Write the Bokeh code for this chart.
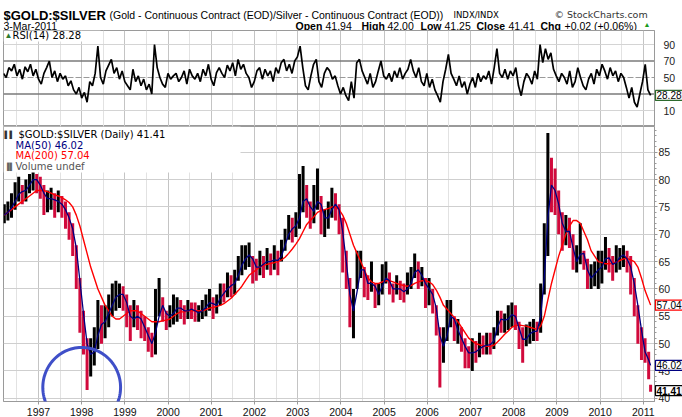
import numpy as np
import pandas as pd
from bokeh.plotting import figure
from bokeh.layouts import column
from bokeh.models import Range1d, FixedTicker, Span, Label, BoxAnnotation, PolyAnnotation
from bokeh.core.properties import value
from bokeh.embed import file_html
from bokeh.resources import INLINE

# ---------------- data ----------------
months = pd.period_range("1996-03", "2011-03", freq="M")

low = [72, 72.5, 73, 74.5, 76, 75.5, 76, 77.5, 78, 77.5,
       76.5, 73.5, 74, 74.5, 73, 74, 73, 71, 69, 66, 60, 52,
       48, 41.5, 44, 46, 49, 50, 51, 53, 55, 56, 56.5, 56,
       53, 50.5, 53, 52.5, 51, 50.5, 48.5, 47.5, 48, 55, 54, 52.5,
       53, 53.5, 54, 54.5, 53.5, 54.5, 54.5, 54, 54, 54.5, 55, 56,
       54.5, 55.5, 57, 57.5, 58.5, 58.5, 59, 61.5, 62.5, 63.5, 64, 61,
       61.5, 62.5, 62, 63.5, 62.5, 63.5, 62.5, 65, 67, 69, 68.5, 69.5,
       71, 74, 73, 71, 72, 74.5, 70, 69.5, 71, 73, 72.5, 70,
       63, 60, 53, 51, 60, 62, 58.5, 58, 59.5, 56.5, 57, 59,
       61, 59, 57.5, 59, 58, 57.5, 59, 60, 62, 60, 60.5, 56.5,
       57, 55.5, 51.5, 42, 46.5, 50.5, 53, 50.5, 50, 48.5, 45.5, 45.5,
       45, 46.5, 47.5, 48, 48, 48, 49, 51.5, 52, 52, 52.5, 53,
       52.5, 49, 46.5, 49.5, 50, 50.5, 50.5, 52, 59, 66, 74, 73.5,
       70, 67, 68, 67.5, 63.5, 63, 64.5, 63.5, 60, 60, 60.5, 60,
       61, 63.5, 63, 61.5, 63, 63.5, 64, 63, 59, 55, 50, 47,
       46.5, 43.5, 41.2]

high = [75.5, 76, 77.5, 79.5, 80.5, 79, 80, 81, 81.5, 81,
        80.5, 79, 78, 78.5, 77.5, 78, 77, 76, 74, 72, 68, 62,
        56, 51, 51, 53, 58, 57, 57, 59, 61, 61.5, 61, 60.5,
        59, 57, 58, 57, 56, 55, 53, 52, 60, 62, 58.5, 56,
        57, 59, 58.5, 58, 57, 58, 57.5, 57.5, 57, 58, 59, 60,
        58.5, 59, 61, 61, 63, 62.5, 63.5, 66, 68, 68, 68.5, 66,
        65.5, 67, 66, 67.5, 66.5, 68, 67, 69, 71, 73.5, 73, 74,
        81, 82.5, 79, 76, 79, 82, 77, 74.5, 76, 78.5, 77.5, 75.5,
        73, 67, 62, 60, 67, 67, 64, 62.5, 65, 61, 61, 64.5,
        65, 63, 61, 62.5, 61.5, 61, 63, 64, 66.5, 65, 64, 62,
        62, 60, 57, 53, 53, 58, 58, 55, 54.5, 53, 51, 49.5,
        51, 50.5, 52, 51.5, 52, 52, 53, 56, 56, 55.5, 57, 57.5,
        57, 54, 53, 53.5, 54, 54.5, 54, 61, 72, 88.5, 84, 82,
        78, 74, 73.5, 73, 70, 68, 72, 67, 65.5, 64.5, 65, 67,
        67, 69.5, 67.5, 66, 68, 67.5, 68, 67, 66, 62, 57, 53,
        51, 48.5, 42.5]

close = [73.5, 74.5, 75.5, 78, 78.5, 77, 79, 80, 80.5, 79,
         78, 75, 76.5, 77, 75, 76.5, 74.5, 73, 71, 68, 62, 55,
         50, 45, 48.5, 49.5, 56, 53, 54.5, 57, 58.5, 59, 59.5, 58.5,
         55, 52.5, 56, 55, 53, 52, 50, 49, 57, 58, 56, 54,
         55, 56.5, 57, 56, 55, 57, 56, 55.5, 55.5, 56.5, 57, 58.5,
         56, 57.5, 59.5, 59, 61, 60.5, 62, 64, 65.5, 66, 66.5, 63.5,
         63, 65.5, 64, 65.5, 64.5, 66, 64.5, 67, 69, 72, 70.5, 72.5,
         75, 78, 75.5, 73, 75, 78, 72, 72, 74, 76, 75, 72.5,
         66, 62, 55, 57, 65, 65.5, 61, 60, 63, 58, 59, 63,
         63, 60, 59, 61, 59.5, 59, 61, 62, 65, 62, 62, 59,
         60.5, 58, 53.5, 48, 50, 55, 56, 52, 52, 50, 49, 47.5,
         49, 48, 50, 49.5, 50, 49.5, 51.5, 55, 54, 54, 55, 56,
         54, 51, 50, 52, 52, 52.5, 52, 59, 68, 80, 78, 77,
         74, 70, 71, 70, 65, 65, 68, 65, 61.5, 62.5, 63, 64,
         64, 67, 65, 63.5, 66, 66, 66.5, 64.5, 62, 57.5, 53, 49.5,
         48.5, 45, 41.41]

ma50 = [73.5, 74, 74.8, 76, 77.3, 77.8, 78, 79, 80, 80,
        79, 77.5, 76.5, 76.5, 76.3, 76, 75.5, 74.5, 73, 71, 67.5, 61.5,
        55.5, 50, 48, 48.5, 51.5, 53.5, 54, 55.5, 57, 58.5, 59, 59,
        57.5, 55, 54.5, 55, 54.5, 53, 51.5, 50, 52, 55, 57, 55.5,
        55, 55.5, 56.5, 56.5, 56, 56, 56.3, 56, 55.6, 56, 56.6, 57.5,
        57.3, 57, 58.3, 59.2, 60, 60.6, 61, 62.5, 64.3, 65.5, 66.2, 65.5,
        64, 64, 64.5, 65, 65, 65.3, 65.2, 66, 68, 70, 71, 71.5,
        73, 76, 76.5, 75, 74.2, 76, 75.5, 73, 73, 74.5, 75.5, 74.5,
        70.5, 65, 59, 56, 59.5, 63.5, 63.5, 61, 61, 60.5, 59, 60.5,
        62, 61.5, 60, 60, 60, 59.5, 60, 61, 63, 63.5, 62.5, 61,
        60, 59, 56.5, 51.5, 49.5, 51.5, 55, 54.5, 52.5, 51, 49.5, 48.3,
        48.3, 48.5, 49, 49.5, 49.7, 49.8, 50.5, 53, 54.5, 54.3, 54.5, 55.3,
        55, 52.8, 50.8, 50.8, 51.8, 52.2, 52.3, 55, 62, 73, 79, 78,
        75.5, 72, 70.5, 70.5, 67.5, 65, 66.3, 66.5, 63.5, 62, 62.7, 63.5,
        64, 65.5, 65.7, 64.5, 64.8, 65.8, 66.2, 65.5, 64, 61, 57, 52.5,
        48.5, 47, 46.02]

ma200 = [73.5, 74, 74.5, 75, 75.5, 76, 76.5, 77, 77.5, 78,
         78, 78, 77.8, 77.5, 77.2, 77, 76.7, 76.3, 75.8, 75, 73.5, 71.5,
         69, 66.5, 64, 62, 60, 58.5, 57, 56, 55, 54.5, 54.5, 55,
         55.5, 56, 56, 56, 55.5, 55, 54.5, 54, 54, 54, 54.2, 54.3,
         54.5, 55, 55.5, 55.8, 55.8, 56, 56, 56, 56, 56, 56.2, 56.5,
         56.6, 56.8, 57, 57.3, 57.8, 58.3, 59, 59.7, 60.5, 61.5, 62.5, 63,
         63.5, 64, 64.3, 64.5, 64.7, 64.8, 65, 65.3, 65.8, 66.5, 67.3, 68.2,
         69.2, 70.5, 71.8, 72.5, 73.2, 74, 74.3, 74.5, 74.7, 75, 75, 74.5,
         73.5, 72, 70, 68, 66.5, 65, 63.5, 62, 61.3, 61, 61, 61.3,
         61.5, 61.5, 61.3, 61, 60.8, 60.6, 60.5, 60.6, 61, 61.3, 61.5, 61.5,
         61.3, 60.8, 59.8, 58.5, 57, 56.3, 55.5, 54.8, 54, 53, 52, 51,
         50.5, 50, 49.8, 49.6, 49.5, 49.5, 49.7, 50.3, 51, 51.7, 52.3, 53,
         53.3, 53.4, 53.3, 53.2, 53, 52.8, 52.6, 53.2, 55, 58, 61, 63.5,
         66, 68, 70, 71.5, 72.5, 72.5, 72, 70.5, 69, 67, 66, 65,
         64.8, 64.6, 64.6, 64.7, 64.9, 65.2, 65.5, 65.6, 65.3, 65, 64, 62,
         59.7, 58, 57.04]

rsi = [55, 50, 62, 58, 66, 52, 60, 48, 63, 57, 66, 52, 60, 48, 42, 55,
       62, 70, 50, 58, 45, 55, 48, 52, 40, 46, 35, 30, 38, 25, 32, 20,
       45, 40, 55, 88, 50, 42, 58, 65, 72, 55, 62, 48, 58, 45, 40, 35,
       60, 45, 52, 40, 48, 35, 42, 30, 90, 62, 50, 42, 38, 55, 48, 52,
       55, 45, 50, 58, 42, 60, 52, 48, 55, 45, 60, 52, 66, 48, 40, 56,
       62, 55, 50, 65, 58, 68, 52, 72, 60, 66, 55, 50, 38, 45, 58, 62,
       48, 60, 52, 58, 45, 62, 55, 68, 72, 58, 66, 55, 70, 75, 88, 62,
       40, 35, 52, 66, 72, 45, 38, 55, 62, 58, 48, 52, 40, 30, 38, 28,
       22, 45, 25, 68, 72, 58, 50, 42, 55, 38, 45, 58, 70, 52, 48, 55,
       45, 58, 50, 62, 48, 55, 60, 72, 58, 50, 62, 45, 40, 55, 38, 48,
       35, 28, 20, 45, 60, 78, 55, 48, 40, 52, 38, 45, 30, 42, 50, 38,
       55, 45, 52, 48, 58, 42, 62, 85, 55, 50, 60, 48, 58, 52, 62, 40,
       28, 45, 55, 50, 42, 58, 48, 90, 68, 85, 72, 80, 60, 52, 45, 55,
       50, 42, 58, 38, 45, 62, 50, 40, 35, 48, 55, 42, 60, 52, 66, 58,
       48, 62, 52, 58, 45, 55, 50, 38, 25, 38, 20, 14, 30, 45, 66, 35,
       28.28]

years = list(range(1997, 2012))
main_ticks = [40, 45, 50, 55, 60, 65, 70, 75, 80, 85]
rsi_ticks = [10, 30, 50, 70, 90]

# ---------------- positions ----------------
t = np.array([p.year + (p.month - 0.5) / 12.0 for p in months])
t[-1] = 2011.17
t_rsi = np.linspace(1996.19, 2011.17, len(rsi))

X0, X1 = 1996.19, 2011.26
Y0, Y1 = 39.42, 89.7
R0, R1 = -9.4, 107.0
FW = 651


def xd(px):
    return X0 + (px - 3) * (X1 - X0) / FW


def yd(py):
    return Y0 + (401 - py) * (Y1 - Y0) / 275.0


def yr(py):
    return R0 + (126 - py) * (R1 - R0) / 96.0


UP = "#000000"
DOWN = "#d10a3c"
GRID_MAJ = "#c4c4c4"
GRID_MIN = "#e2e2e2"
FRAME = "#9a9a9a"

# ---------------- header (frame spans page pixels 3..654, so x == page pixel) ----------------
hdr = figure(frame_width=FW, frame_height=30, x_range=Range1d(3, 654), y_range=Range1d(30, 0),
             toolbar_location=None, output_backend="svg", title=None,
             x_axis_location=None, y_axis_location=None,
             min_border_left=3, min_border_right=28, min_border_top=0, min_border_bottom=0)
hdr.grid.visible = False
hdr.outline_line_color = None


def htext(x, y, s, size, bold=False, color="#000000", font="Liberation Sans"):
    hdr.text(x=[x], y=[y], text=[s], text_font=value(font), text_font_size=value(size),
             text_font_style="bold" if bold else "normal", text_color=color,
             text_baseline="alphabetic", text_align="left")


htext(3, 15, "$GOLD:$SILVER", "13px", bold=True)
htext(109, 14, "(Gold - Continuous Contract (EOD)/Silver - Continuous Contract (EOD))", "10.5px")
htext(453, 14, "INDX/INDX", "8.5px", font="DejaVu Sans")
htext(554, 14, "\u00a9 StockCharts.com", "9.5px", color="#333333", font="DejaVu Sans")
htext(3, 25, "3-Mar-2011", "10.5px")
htext(295, 25, "Open", "10.5px", bold=True)
htext(325, 25, "41.94", "10.5px")
htext(361, 25, "High", "10.5px", bold=True)
htext(387, 25, "42.00", "10.5px")
htext(420, 25, "Low", "10.5px", bold=True)
htext(444, 25, "41.25", "10.5px")
htext(476, 25, "Close", "10.5px", bold=True)
htext(508, 25, "41.41", "10.5px")
htext(540, 25, "Chg", "10.5px", bold=True)
htext(564, 25, "+0.02 (+0.06%)", "10.5px")
htext(643, 24, "\u25b2", "7px", color="#1a9a1a")

# ---------------- RSI panel ----------------
rp = figure(frame_width=FW, frame_height=96, x_range=Range1d(X0, X1), y_range=Range1d(R0, R1),
            toolbar_location=None, output_backend="svg", y_axis_location="right",
            min_border_left=3, min_border_right=28, min_border_top=0, min_border_bottom=0)
rp.xaxis.visible = False
rp.yaxis.ticker = FixedTicker(ticks=rsi_ticks)
rp.yaxis.major_label_overrides = {30: ""}
rp.yaxis.major_label_text_font = "Liberation Sans"
rp.yaxis.major_label_text_font_size = "10.5px"
rp.yaxis.major_label_text_color = "#222222"
rp.yaxis.axis_line_color = FRAME
rp.yaxis.major_tick_line_color = None
rp.yaxis.minor_tick_line_color = None
rp.yaxis.major_label_standoff = 3
rp.ygrid.visible = False
rp.xgrid.ticker = FixedTicker(ticks=years, minor_ticks=[y + 0.5 for y in range(1996, 2011)])
rp.xgrid.grid_line_color = GRID_MAJ
rp.xgrid.minor_grid_line_color = GRID_MIN
rp.outline_line_color = FRAME

for lv, col, w, dash in [(90, "#d4d4d4", 1, "solid"), (10, "#d4d4d4", 1, "solid"),
                         (70, "#7a7a7a", 1.5, "solid"), (30, "#7a7a7a", 1.5, "solid"),
                         (50, "#9a9a9a", 1.2, "6 2")]:
    rp.add_layout(Span(location=lv, dimension="width", line_color=col, line_width=w,
                       line_dash=dash, level="underlay"))

rp.line(t_rsi, rsi, line_color="#000000", line_width=1.7)

rp.add_layout(BoxAnnotation(left=X0, right=xd(100), bottom=yr(41), top=R1,
                            fill_color="white", fill_alpha=1, line_color=None))
rp.add_layout(Label(x=xd(4), y=yr(35), text="\u25b2", text_color="#2d7a2d",
                    text_font_size="8px", text_baseline="middle"))
rp.add_layout(Label(x=xd(12), y=yr(35), text="RSI(14) 28.28", text_color="#000000",
                    text_font="DejaVu Sans", text_font_size="10px", text_baseline="middle"))
rp.add_layout(Label(x=xd(655), y=28.28, text="28.28", text_color="#000000",
                    text_font="Liberation Sans", text_font_size="10px", text_baseline="middle",
                    border_line_color="#2d6a2d", border_line_width=1.2,
                    background_fill_color="white", padding=1), "right")

# ---------------- main panel ----------------
mp = figure(frame_width=FW, frame_height=275, x_range=Range1d(X0, X1), y_range=Range1d(Y0, Y1),
            toolbar_location=None, output_backend="svg", y_axis_location="right",
            min_border_left=3, min_border_right=28, min_border_top=0, min_border_bottom=16)
mp.xaxis.ticker = FixedTicker(ticks=years, minor_ticks=[y + 0.5 for y in range(1996, 2011)])
mp.xaxis.major_label_overrides = {y: str(y) for y in years}
mp.xaxis.major_label_text_font = "Liberation Sans"
mp.xaxis.major_label_text_font_size = "10.5px"
mp.xaxis.major_label_text_color = "#111111"
mp.xaxis.axis_line_color = FRAME
mp.xaxis.major_tick_line_color = FRAME
mp.xaxis.major_tick_out = 3
mp.xaxis.major_tick_in = 0
mp.xaxis.minor_tick_line_color = None
mp.xaxis.major_label_standoff = 2

mp.yaxis.ticker = FixedTicker(ticks=main_ticks, minor_ticks=list(range(40, 90)))
mp.yaxis.major_label_text_font = "Liberation Sans"
mp.yaxis.major_label_text_font_size = "10.5px"
mp.yaxis.major_label_text_color = "#222222"
mp.yaxis.axis_line_color = FRAME
mp.yaxis.major_tick_line_color = FRAME
mp.yaxis.major_tick_out = 3
mp.yaxis.major_tick_in = 0
mp.yaxis.minor_tick_line_color = FRAME
mp.yaxis.minor_tick_out = 2
mp.yaxis.minor_tick_in = 0
mp.yaxis.major_label_standoff = 1

mp.xgrid.ticker = FixedTicker(ticks=years, minor_ticks=[y + 0.5 for y in range(1996, 2011)])
mp.xgrid.grid_line_color = GRID_MAJ
mp.xgrid.minor_grid_line_color = GRID_MIN
mp.ygrid.grid_line_color = "#cfcfcf"
mp.outline_line_color = FRAME

colors = [UP] + [UP if close[i] >= close[i - 1] else DOWN for i in range(1, len(close))]
mp.segment(x0=t, y0=low, x1=t, y1=high, line_color=colors, line_width=3)
mp.line(t, ma200, line_color="#ff0000", line_width=1.4)
mp.line(t, ma50, line_color="#000080", line_width=1.3)

# legend block
mp.add_layout(BoxAnnotation(left=X0, right=xd(240), bottom=yd(172), top=Y1,
                            fill_color="white", fill_alpha=1, line_color=None))
mp.add_layout(Label(x=xd(4), y=yd(134), text="\u258c\u258c", text_color="#333333",
                    text_font_size="7px", text_baseline="middle"))
mp.add_layout(Label(x=xd(18), y=yd(134), text="$GOLD:$SILVER (Daily) 41.41", text_color="#000000",
                    text_font="DejaVu Sans", text_font_size="10px", text_baseline="middle"))
mp.segment(x0=[xd(5)], y0=[yd(144.5)], x1=[xd(13)], y1=[yd(144.5)], line_color="#000080", line_width=2)
mp.add_layout(Label(x=xd(15), y=yd(144.5), text="MA(50) 46.02", text_color="#000080",
                    text_font="DejaVu Sans", text_font_size="10px", text_baseline="middle"))
mp.segment(x0=[xd(5)], y0=[yd(155)], x1=[xd(13)], y1=[yd(155)], line_color="#ff0000", line_width=2)
mp.add_layout(Label(x=xd(15), y=yd(155), text="MA(200) 57.04", text_color="#ff0000",
                    text_font="DejaVu Sans", text_font_size="10px", text_baseline="middle"))
mp.add_layout(Label(x=xd(4), y=yd(165.5), text="\u2590\u258c", text_color="#666666",
                    text_font_size="7px", text_baseline="middle"))
mp.add_layout(Label(x=xd(15), y=yd(165.5), text="Volume undef", text_color="#555555",
                    text_font="DejaVu Sans", text_font_size="10px", text_baseline="middle"))

# value tags at the right edge (placed in the side panel so they are not clipped)
for val, txt, col, bold in [(57.04, "57.04", "#ff0000", False), (46.02, "46.02", "#000080", False),
                            (41.41, "41.41", "#000000", True)]:
    mp.add_layout(Label(x=xd(655), y=val, text=txt, text_color="#000000",
                        text_font="Liberation Sans", text_font_size="10px",
                        text_font_style="bold" if bold else "normal", text_baseline="middle",
                        border_line_color=col, border_line_width=1.2,
                        background_fill_color="white", padding=1), "right")

# hand-drawn highlight ring around the 1998 low
ang = np.linspace(0, 2 * np.pi, 120)
cx, cy, rx, ry = 1998.0, 42.0, 0.9, 7.3
mp.add_layout(PolyAnnotation(xs=list(cx + rx * np.cos(ang)), ys=list(cy + ry * np.sin(ang)),
                             fill_alpha=0, line_color="#3f4fc8", line_alpha=1, line_width=3), "below")

layout = column(hdr, rp, mp, spacing=0)
open("out.html", "w").write(file_html(layout, INLINE))
